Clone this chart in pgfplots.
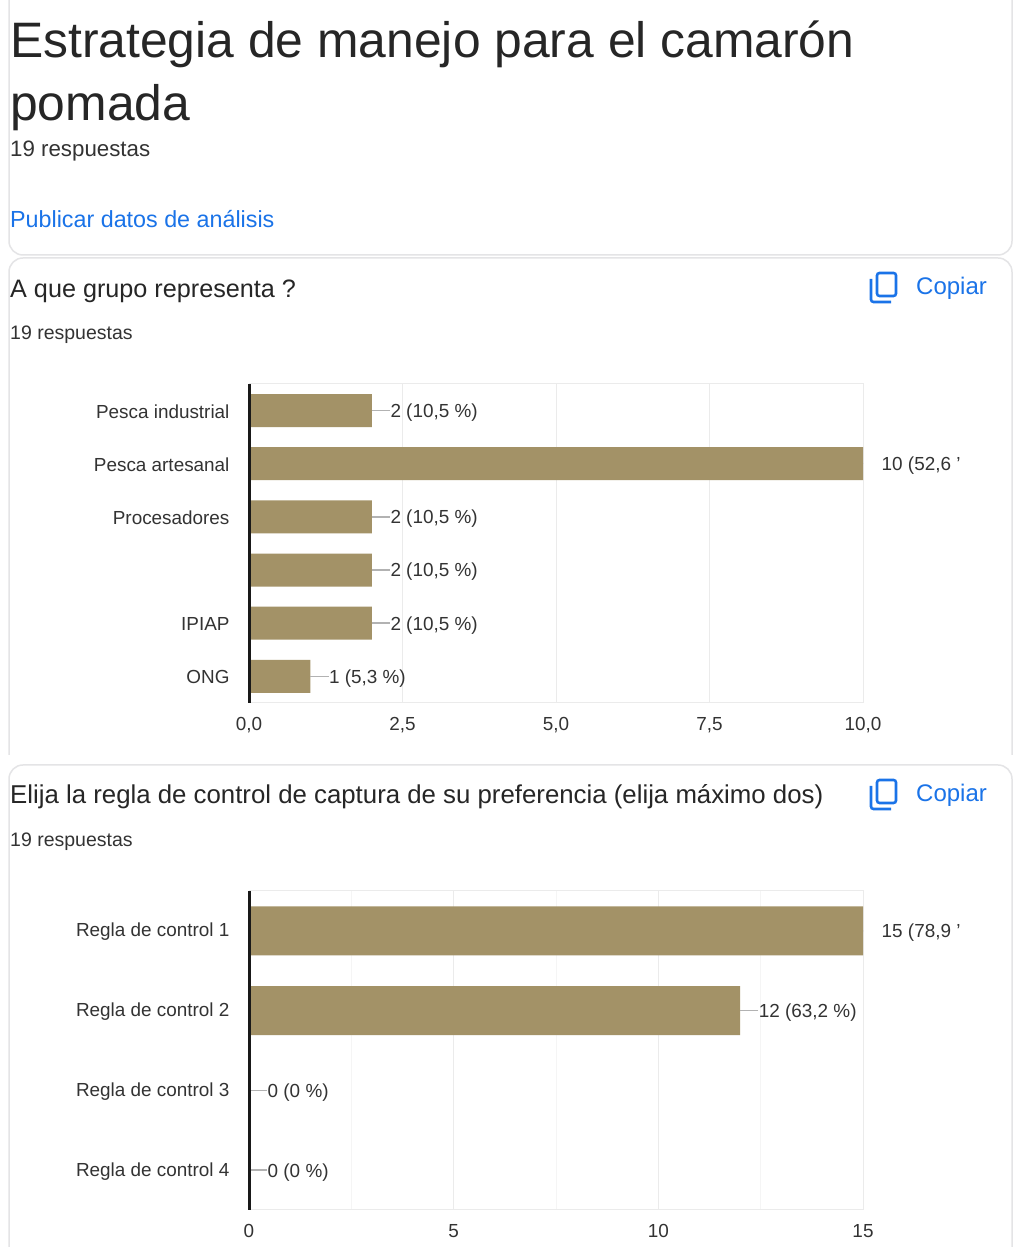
\documentclass[border=0pt]{standalone}
\usepackage{pgfplots}
\pgfplotsset{compat=1.18}
\usepackage{fontspec}
\setmainfont{Liberation Sans}
\definecolor{bar}{HTML}{A39267}
\definecolor{gridc}{HTML}{EBEBEB}
\definecolor{txt}{HTML}{333333}
\definecolor{blue1}{HTML}{1A73E8}
\definecolor{card}{HTML}{E4E4E6}
\newcommand{\fs}[1]{\fontsize{#1pt}{#1pt}\selectfont}
\newcommand{\copyicon}[2]{%
  \draw[blue1,line width=2.6pt,rounded corners=2.5pt] (#1+7,#2-1) rectangle (#1+26,#2-24);
  \draw[blue1,line width=2.6pt,rounded corners=2.5pt] (#1+1,#2-7) -- (#1+1,#2-30) -- (#1+21,#2-30);
}
\pgfplotsset{
  chart/.style={
    at={(249pt,#1)}, anchor=north west,
    width=614pt, height=319pt, scale only axis,
    y dir=reverse, ymin=-0.5,
    axis line style={draw=gridc,line width=1pt},
    major tick length=0pt, minor tick length=0pt,
    xmajorgrids, major grid style={draw=gridc,line width=1pt},
    ytick=data,
    tick label style={font=\fs{18.9},text=txt},
    yticklabel style={xshift=-16pt,yshift=-1pt},
    xticklabel style={yshift=-11pt},
    /pgf/number format/assume math mode=true,
    point meta=explicit symbolic,
    nodes near coords,
    nodes near coords style={anchor=west,font=\fs{18.9},text=txt,inner sep=0pt,yshift=-2pt},
    clip mode=individual,
  }
}
\begin{document}
\begin{tikzpicture}[x=1pt,y=1pt]
\path[use as bounding box,fill=white] (0,0) rectangle (1013,1247);
% cards
\draw[card,line width=1.5pt,rounded corners=14pt] (9,1260) -- (9,992) -- (1012,992) -- (1012,1260);
\draw[card,line width=1.5pt,rounded corners=14pt] (9,492) -- (9,989) -- (1012,989) -- (1012,492);
\draw[card,line width=1.5pt,rounded corners=14pt] (9,-20) -- (9,482) -- (1012,482) -- (1012,-20);
% header
\node[anchor=base west,inner sep=0pt,text=black!85] at (10,1189) {\fs{49.8}Estrategia de manejo para el camarón};
\node[anchor=base west,inner sep=0pt,text=black!85] at (10,1126) {\fs{49.8}pomada};
\node[anchor=base west,inner sep=0pt,text=txt] at (10,1090) {\fs{22.3}19 respuestas};
\node[anchor=base west,inner sep=0pt,text=blue1] at (10,1019) {\fs{23.3}Publicar datos de análisis};
% card 2 text
\node[anchor=base west,inner sep=0pt,text=black!85] at (10,949) {\fs{25.2}A que grupo representa ?};
\node[anchor=base west,inner sep=0pt,text=txt] at (10,907) {\fs{19.5}19 respuestas};
\copyicon{870}{975}
\node[anchor=base west,inner sep=0pt,text=blue1] at (916,952) {\fs{24}Copiar};
% first chart
\begin{axis}[chart=863pt,
  xmin=0,xmax=10,ymax=5.5,
  xtick={0,2.5,5,7.5,10},
  xticklabels={{0,0},{2,5},{5,0},{7,5},{10,0}},
  yticklabels={Pesca industrial,Pesca artesanal,Procesadores,{},IPIAP,ONG},
  nodes near coords style={xshift=18.5pt},
]
\addplot[xbar,bar width=33pt,fill=bar,draw=none,
  error bars/.cd,x dir=plus,x fixed=0.3,error mark=none,
  error bar style={draw=black!30,line width=1.5pt}]
 coordinates {
  (2,0)[2 (10,5 \%)]
  (10,1)[10 (52,6 ']
  (2,2)[2 (10,5 \%)]
  (2,3)[2 (10,5 \%)]
  (2,4)[2 (10,5 \%)]
  (1,5)[1 (5,3 \%)]
};
\draw[black!90,line width=3pt] (axis cs:0,-0.5) -- (axis cs:0,5.5);
\end{axis}
% card 3 text
\node[anchor=base west,inner sep=0pt,text=black!85] at (10,443) {\fs{25.8}Elija la regla de control de captura de su preferencia (elija máximo dos)};
\node[anchor=base west,inner sep=0pt,text=txt] at (10,400) {\fs{19.5}19 respuestas};
\copyicon{870}{468}
\node[anchor=base west,inner sep=0pt,text=blue1] at (916,445) {\fs{24}Copiar};
% second chart
\begin{axis}[chart=356pt,
  xmin=0,xmax=15,ymax=3.5,
  xtick={0,5,10,15},
  minor xtick={2.5,7.5,12.5},
  minor grid style={draw=gridc!50,line width=1pt},
  xminorgrids,
  yticklabels={Regla de control 1,Regla de control 2,Regla de control 3,Regla de control 4},
  nodes near coords style={xshift=18.5pt},
]
\addplot[xbar,bar width=49pt,fill=bar,draw=none,
  error bars/.cd,x dir=plus,x fixed=0.44,error mark=none,
  error bar style={draw=black!30,line width=1.5pt}]
 coordinates {
  (15,0)[15 (78,9 ']
  (12,1)[12 (63,2 \%)]
  (0,2)[0 (0 \%)]
  (0,3)[0 (0 \%)]
};
\draw[black!90,line width=3pt] (axis cs:0,-0.5) -- (axis cs:0,3.5);
\end{axis}
\end{tikzpicture}
\end{document}
